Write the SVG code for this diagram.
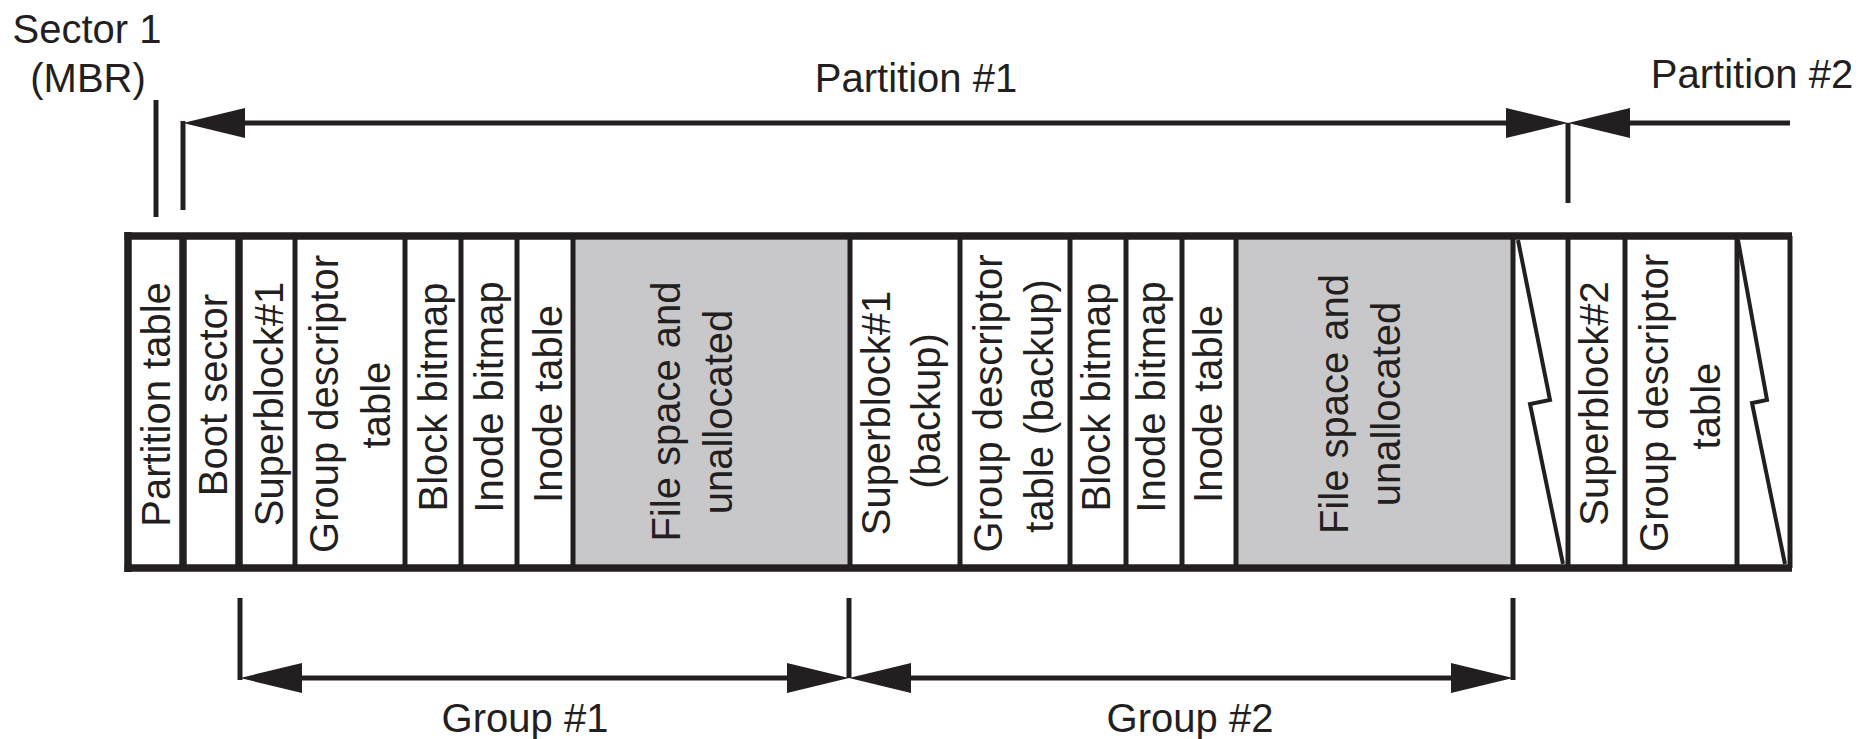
<svg xmlns="http://www.w3.org/2000/svg" width="1872" height="739" viewBox="0 0 1872 739">
<style>
  .t { font-family: "Liberation Sans", Arial, Helvetica, sans-serif; font-size: 40px; fill: #231f20; }
  .v { font-family: "Liberation Sans", Arial, Helvetica, sans-serif; font-size: 40px; fill: #231f20; text-anchor: middle; }
  .cell { fill: #ffffff; stroke: none; }
  .gray { fill: #c8c8ca; stroke: none; }
  .div { stroke: #231f20; stroke-width: 5; fill: none; }
  .thick { stroke: #231f20; stroke-width: 7.5; fill: none; }
  .conn { stroke: #231f20; stroke-width: 5; fill: none; }
  .zig { stroke: #231f20; stroke-width: 4; fill: none; stroke-linejoin: miter; }
</style>
<defs>
  <marker id="ah" markerUnits="userSpaceOnUse" markerWidth="62" markerHeight="30" viewBox="0 0 62 30" refX="0" refY="15" orient="auto-start-reverse" overflow="visible">
    <path d="M0,0 L62,15 L0,30 Z" fill="#231f20"/>
  </marker>
</defs>
<rect x="0" y="0" width="1872" height="739" fill="#ffffff"/>

<!-- labels -->
<g id="label-sector1">
  <text class="t" x="87" y="43" text-anchor="middle">Sector 1</text>
  <text class="t" x="88" y="92" text-anchor="middle">(MBR)</text>
</g>
<g id="label-partition1"><text class="t" x="916" y="92" text-anchor="middle">Partition #1</text></g>
<g id="label-partition2"><text class="t" x="1752" y="88" text-anchor="middle">Partition #2</text></g>
<g id="label-group1"><text class="t" x="525" y="732" text-anchor="middle">Group #1</text></g>
<g id="label-group2"><text class="t" x="1190" y="732" text-anchor="middle">Group #2</text></g>

<!-- cells -->
<g id="partition-table">
  <rect class="cell" x="128" y="240" width="55" height="324"/>
  <text class="v" transform="translate(170,404.5) rotate(-90)">Partition table</text>
</g>
<g id="boot-sector">
  <rect class="cell" x="183" y="240" width="56" height="324"/>
  <text class="v" transform="translate(227,395) rotate(-90)">Boot sector</text>
</g>
<g id="superblock1">
  <rect class="cell" x="239" y="240" width="56" height="324"/>
  <text class="v" transform="translate(283,404) rotate(-90)">Superblock#1</text>
</g>
<g id="group-descriptor-table1">
  <rect class="cell" x="295" y="240" width="110" height="324"/>
  <text class="v" transform="translate(338,404) rotate(-90)">Group descriptor</text>
  <text class="v" transform="translate(390,405) rotate(-90)">table</text>
</g>
<g id="block-bitmap1">
  <rect class="cell" x="405" y="240" width="56" height="324"/>
  <text class="v" transform="translate(447,397) rotate(-90)">Block bitmap</text>
</g>
<g id="inode-bitmap1">
  <rect class="cell" x="461" y="240" width="56" height="324"/>
  <text class="v" transform="translate(503,397) rotate(-90)">Inode bitmap</text>
</g>
<g id="inode-table1">
  <rect class="cell" x="517" y="240" width="56" height="324"/>
  <text class="v" transform="translate(562,404) rotate(-90)">Inode table</text>
</g>
<g id="file-space1">
  <rect class="gray" x="573" y="240" width="277" height="324"/>
  <text class="v" transform="translate(680,411.5) rotate(-90)">File space and</text>
  <text class="v" transform="translate(732,412) rotate(-90)">unallocated</text>
</g>
<g id="superblock1-backup">
  <rect class="cell" x="850" y="240" width="110" height="324"/>
  <text class="v" transform="translate(890,413) rotate(-90)">Superblock#1</text>
  <text class="v" transform="translate(940,411) rotate(-90)">(backup)</text>
</g>
<g id="group-descriptor-table-backup">
  <rect class="cell" x="960" y="240" width="110" height="324"/>
  <text class="v" transform="translate(1002,403.5) rotate(-90)">Group descriptor</text>
  <text class="v" transform="translate(1053,406) rotate(-90)">table (backup)</text>
</g>
<g id="block-bitmap2">
  <rect class="cell" x="1070" y="240" width="56" height="324"/>
  <text class="v" transform="translate(1110,397) rotate(-90)">Block bitmap</text>
</g>
<g id="inode-bitmap2">
  <rect class="cell" x="1126" y="240" width="56" height="324"/>
  <text class="v" transform="translate(1165,397) rotate(-90)">Inode bitmap</text>
</g>
<g id="inode-table2">
  <rect class="cell" x="1182" y="240" width="54" height="324"/>
  <text class="v" transform="translate(1222,404) rotate(-90)">Inode table</text>
</g>
<g id="file-space2">
  <rect class="gray" x="1236" y="240" width="277" height="324"/>
  <text class="v" transform="translate(1348,404) rotate(-90)">File space and</text>
  <text class="v" transform="translate(1400,404) rotate(-90)">unallocated</text>
</g>
<g id="break1">
  <polyline class="zig" points="1518,240 1550,400 1530,404 1563,564"/>
</g>
<g id="superblock2">
  <rect class="cell" x="1568" y="240" width="57" height="324"/>
  <text class="v" transform="translate(1608,403.5) rotate(-90)">Superblock#2</text>
</g>
<g id="group-descriptor-table2">
  <rect class="cell" x="1625" y="240" width="112" height="324"/>
  <text class="v" transform="translate(1668,403) rotate(-90)">Group descriptor</text>
  <text class="v" transform="translate(1720,406) rotate(-90)">table</text>
</g>
<g id="break2">
  <polyline class="zig" points="1738,240 1767,400 1752,403 1785,564"/>
</g>

<!-- box frame and dividers -->
<g id="frame">
  <line class="div" x1="295" y1="236" x2="295" y2="568"/>
  <line class="div" x1="405" y1="236" x2="405" y2="568"/>
  <line class="div" x1="461" y1="236" x2="461" y2="568"/>
  <line class="div" x1="517" y1="236" x2="517" y2="568"/>
  <line class="div" x1="573" y1="236" x2="573" y2="568"/>
  <line class="div" x1="850" y1="236" x2="850" y2="568"/>
  <line class="div" x1="960" y1="236" x2="960" y2="568"/>
  <line class="div" x1="1070" y1="236" x2="1070" y2="568"/>
  <line class="div" x1="1126" y1="236" x2="1126" y2="568"/>
  <line class="div" x1="1182" y1="236" x2="1182" y2="568"/>
  <line class="div" x1="1236" y1="236" x2="1236" y2="568"/>
  <line class="div" x1="1513" y1="236" x2="1513" y2="568"/>
  <line class="div" x1="1568" y1="236" x2="1568" y2="568"/>
  <line class="div" x1="1625" y1="236" x2="1625" y2="568"/>
  <line class="div" x1="1737" y1="236" x2="1737" y2="568"/>
  <line class="div" x1="1790" y1="236" x2="1790" y2="568"/>
  <line class="thick" x1="183" y1="236" x2="183" y2="568"/>
  <line class="thick" x1="239" y1="236" x2="239" y2="568"/>
  <line class="thick" x1="128" y1="232" x2="128" y2="572"/>
  <line class="thick" x1="124.5" y1="236" x2="1792" y2="236"/>
  <line class="thick" x1="124.5" y1="568" x2="1792" y2="568"/>
</g>

<!-- connectors -->
<g id="connectors">
  <line class="conn" x1="156" y1="100" x2="156" y2="217"/>
  <line class="conn" x1="183" y1="121" x2="183" y2="210"/>
  <line class="conn" x1="245" y1="123" x2="1506" y2="123" marker-start="url(#ah)" marker-end="url(#ah)"/>
  <line class="conn" x1="1568" y1="123" x2="1568" y2="203"/>
  <line class="conn" x1="1790" y1="123" x2="1630" y2="123" marker-end="url(#ah)"/>
  <line class="conn" x1="240" y1="598" x2="240" y2="680"/>
  <line class="conn" x1="849" y1="598" x2="849" y2="678"/>
  <line class="conn" x1="1513" y1="598" x2="1513" y2="680"/>
  <line class="conn" x1="302" y1="678" x2="787" y2="678" marker-start="url(#ah)" marker-end="url(#ah)"/>
  <line class="conn" x1="911" y1="678" x2="1451" y2="678" marker-start="url(#ah)" marker-end="url(#ah)"/>
</g>
</svg>
